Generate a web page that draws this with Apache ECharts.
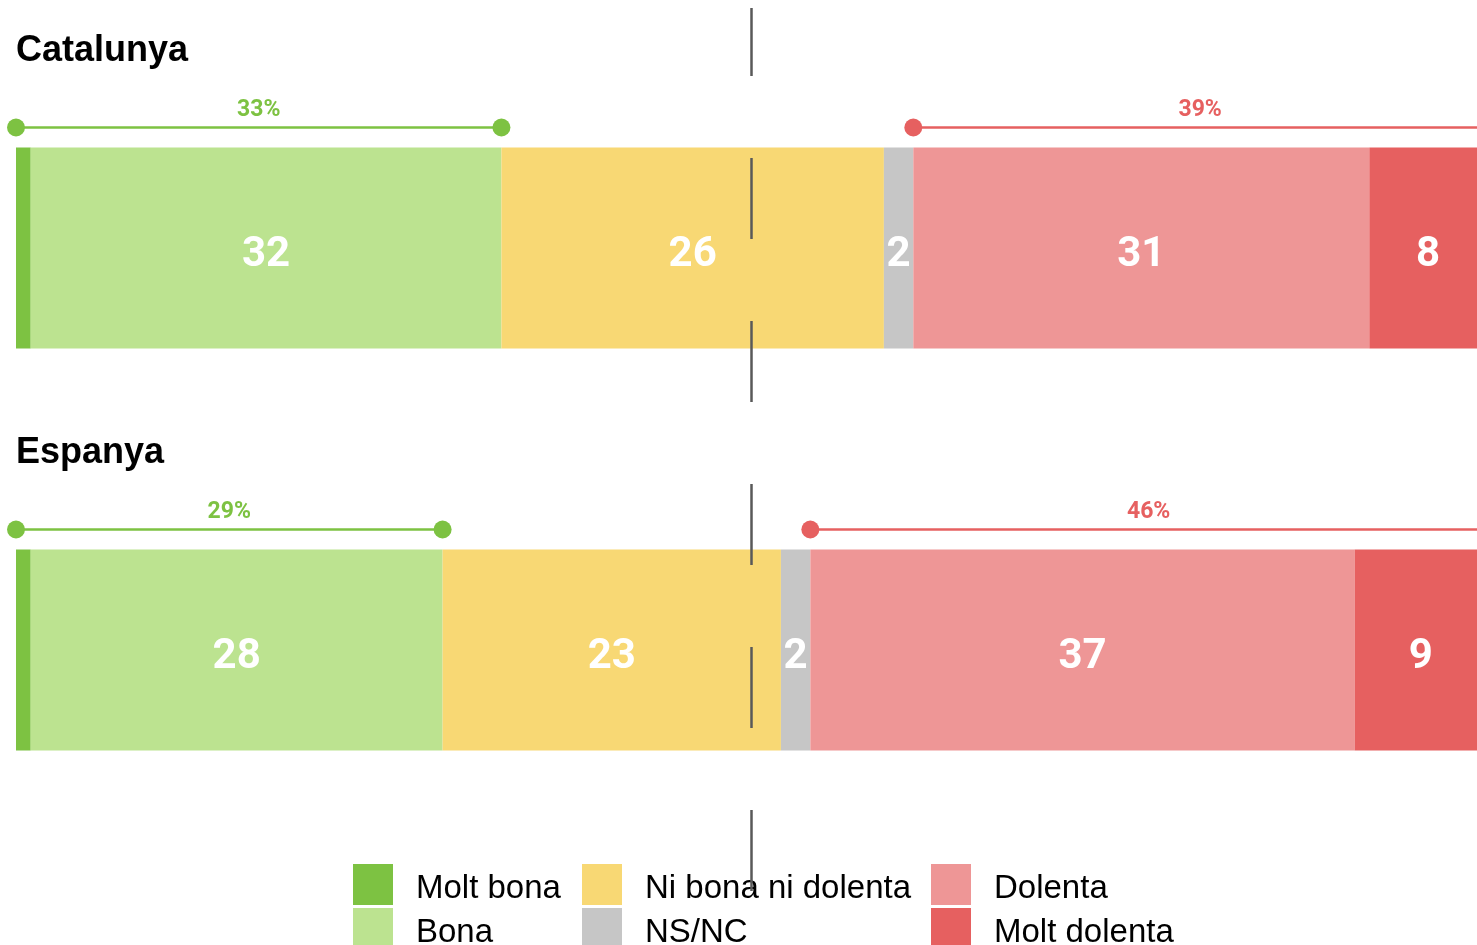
<!DOCTYPE html>
<html>
<head>
<meta charset="utf-8">
<script src="https://cdn.jsdelivr.net/npm/echarts@6/dist/echarts.min.js"></script>
<style>
  html, body { margin: 0; padding: 0; background: #fff; }
  #chart { width: 1477px; height: 945px; }
</style>
</head>
<body>
<div id="chart"></div>
<script>
// dades
var categories = ['Catalunya', 'Espanya'];
var seriesNames = ['Molt bona', 'Bona', 'Ni bona ni dolenta', 'NS/NC', 'Dolenta', 'Molt dolenta'];
var moltBona = [1, 1];
var bona = [32, 28];
var niBonaNiDolenta = [26, 23];
var nsnc = [2, 2];
var dolenta = [31, 37];
var moltDolenta = [8, 9];
var centerValue = 50;

var colors = ['#7DC242', '#BCE390', '#F8D874', '#C6C6C6', '#EE9696', '#E66060'];
var values = [moltBona, bona, niBonaNiDolenta, nsnc, dolenta, moltDolenta];

// brackets: [inici, final, categoria, total]
var goodBrackets = categories.map(function (c, i) {
    var total = moltBona[i] + bona[i];
    return [0, total, i, total];
});
var badBrackets = categories.map(function (c, i) {
    var start = moltBona[i] + bona[i] + niBonaNiDolenta[i] + nsnc[i];
    var total = dolenta[i] + moltDolenta[i];
    return [start, start + total, i, total];
});

function bracketSeries(data, color) {
    return {
        type: 'custom',
        xAxisIndex: 0,
        yAxisIndex: 0,
        clip: false,
        silent: true,
        z: 5,
        encode: { x: [0, 1], y: 2 },
        data: data,
        renderItem: function (params, api) {
            var s = api.coord([api.value(0), api.value(2)]);
            var e = api.coord([api.value(1), api.value(2)]);
            var band = api.size([0, 1])[1];
            var y = s[1] - band / 4 - 20;
            return {
                type: 'group',
                children: [
                    { type: 'line', shape: { x1: s[0], y1: y, x2: e[0], y2: y }, style: { stroke: color, lineWidth: 2.5 } },
                    { type: 'circle', shape: { cx: s[0], cy: y, r: 9 }, style: { fill: color } },
                    { type: 'circle', shape: { cx: e[0], cy: y, r: 9 }, style: { fill: color } },
                    { type: 'text', x: (s[0] + e[0]) / 2, y: y - 17,
                      style: { text: api.value(3) + '%', fill: color, font: 'bold 23px Roboto', align: 'center', verticalAlign: 'middle' } }
                ]
            };
        }
    };
}

var series = seriesNames.map(function (name, k) {
    return {
        name: name,
        type: 'bar',
        stack: 'total',
        xAxisIndex: 0,
        yAxisIndex: 0,
        barWidth: 201,
        itemStyle: { color: colors[k] },
        label: {
            show: true,
            position: 'inside',
            offset: [0, 7],
            color: '#fff',
            fontFamily: 'Roboto',
            fontWeight: 'bold',
            fontSize: 42,
            formatter: function (p) { return p.value >= 2 ? p.value : ''; }
        },
        data: values[k]
    };
});

// titols de cada bloc
series.push({
    type: 'custom',
    xAxisIndex: 0,
    yAxisIndex: 0,
    clip: false,
    silent: true,
    encode: { x: 0, y: 1 },
    data: categories.map(function (c, i) { return [0, i]; }),
    renderItem: function (params, api) {
        var p = api.coord([api.value(0), api.value(1)]);
        var band = api.size([0, 1])[1];
        return {
            type: 'text',
            x: p[0],
            y: p[1] - band / 2 + 4,
            style: { text: categories[params.dataIndex], fill: '#000', font: 'bold 36px "Liberation Sans"', align: 'left', verticalAlign: 'middle' }
        };
    }
});

series.push(bracketSeries(goodBrackets, '#7DC242'));
series.push(bracketSeries(badBrackets, '#E66060'));

// linia central discontinua
series.push({
    type: 'line',
    xAxisIndex: 1,
    yAxisIndex: 1,
    data: [],
    silent: true,
    z: 20,
    markLine: {
        silent: true,
        symbol: 'none',
        label: { show: false },
        lineStyle: { color: '#595959', width: 2.5, type: [81, 82] },
        data: [[{ coord: [centerValue, 0] }, { coord: [centerValue, 1] }]]
    }
});

// llegenda en columnes: una entrada per llegenda
var legendLeft = [353, 353, 582, 582, 931, 931];
var legendTop = [864, 908, 864, 908, 864, 908];
var legends = seriesNames.map(function (name, k) {
    return {
        left: legendLeft[k],
        top: legendTop[k],
        padding: 0,
        icon: 'rect',
        itemWidth: 40,
        itemHeight: 41,
        selectedMode: false,
        formatter: function (n) { return '{t|' + n + '}'; },
        textStyle: {
            rich: {
                t: { fontSize: 33, fontFamily: 'Liberation Sans', color: '#000', padding: [8, 0, 0, 18] }
            }
        },
        data: [name]
    };
});

var option = {
    animation: false,
    backgroundColor: '#fff',
    grid: [
        { left: 16, top: 47, width: 1471, height: 804, outerBoundsMode: 'none' },
        { left: 16, top: 8, width: 1471, height: 883, outerBoundsMode: 'none' }
    ],
    xAxis: [
        { type: 'value', gridIndex: 0, min: 0, max: 100, show: false },
        { type: 'value', gridIndex: 1, min: 0, max: 100, show: false }
    ],
    yAxis: [
        { type: 'category', gridIndex: 0, data: categories, inverse: true, show: false },
        { type: 'value', gridIndex: 1, min: 0, max: 1, show: false }
    ],
    legend: legends,
    series: series
};

var myChart = echarts.init(document.getElementById('chart'));
myChart.setOption(option);
</script>
</body>
</html>
